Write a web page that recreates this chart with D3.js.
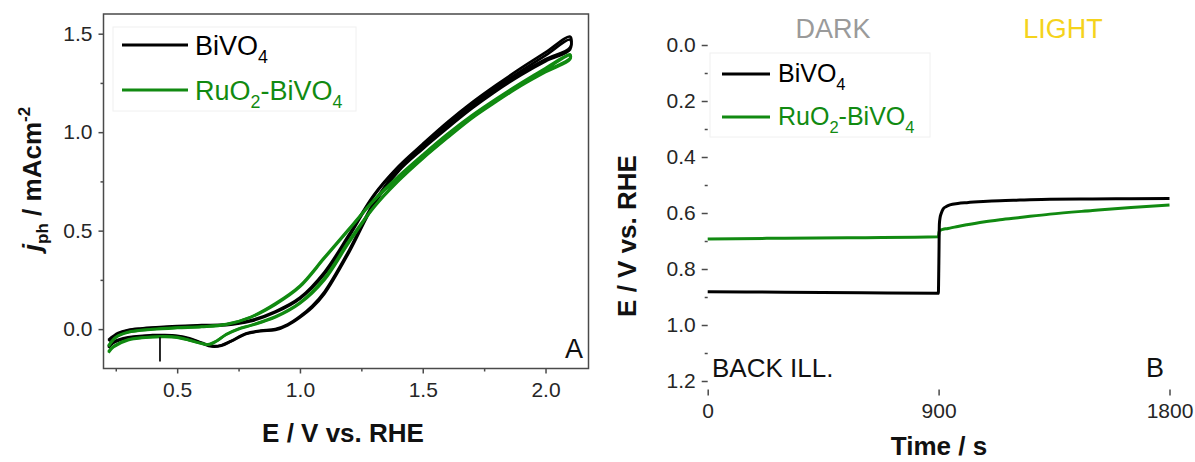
<!DOCTYPE html>
<html><head><meta charset="utf-8">
<script src="https://cdn.jsdelivr.net/npm/d3@7"></script>
<style>
body{margin:0;background:#fff}
svg{display:block}
text{font-family:"Liberation Sans",Arial,sans-serif}
</style>
</head><body>
<svg id="c" width="1195" height="462"></svg>
<script>
// ---------- Panel A data: j_ph (mA cm^-2) vs E (V vs RHE) ----------
const biVO4Fwd1 = [[0.22,-0.095],[0.24,-0.07],[0.3,-0.045],[0.4,-0.034],[0.45,-0.033],[0.5,-0.037],[0.55,-0.05],[0.6,-0.072],[0.64,-0.088],[0.68,-0.084],[0.72,-0.062],[0.78,-0.025],[0.84,-0.01],[0.9,-0.004],[0.95,0.02],[1.0,0.06],[1.05,0.11],[1.1,0.18],[1.2,0.39],[1.3,0.63],[1.4,0.8],[1.5,0.915],[1.6,1.02],[1.7,1.12],[1.8,1.21],[1.9,1.29],[2.0,1.36],[2.1,1.42]];
const biVO4Rev1 = [[2.1,1.47],[2.0,1.39],[1.9,1.31],[1.8,1.23],[1.7,1.14],[1.6,1.04],[1.5,0.93],[1.4,0.82],[1.3,0.675],[1.2,0.47],[1.1,0.28],[1.0,0.155],[0.9,0.085],[0.8,0.04],[0.7,0.02],[0.6,0.018],[0.5,0.012],[0.43,0.008],[0.35,0.0],[0.3,-0.008],[0.26,-0.025],[0.22,-0.06]];
const biVO4Fwd2 = [[0.22,-0.09],[0.24,-0.066],[0.3,-0.042],[0.4,-0.031],[0.45,-0.03],[0.5,-0.034],[0.55,-0.047],[0.6,-0.07],[0.645,-0.086],[0.68,-0.082],[0.72,-0.06],[0.78,-0.022],[0.84,-0.008],[0.9,0.0],[0.95,0.024],[1.0,0.065],[1.05,0.118],[1.1,0.19],[1.2,0.4],[1.3,0.64],[1.4,0.81],[1.5,0.925],[1.6,1.03],[1.7,1.13],[1.8,1.22],[1.9,1.3],[2.0,1.37],[2.1,1.43]];
const biVO4Rev2 = [[2.1,1.485],[2.0,1.405],[1.9,1.325],[1.8,1.24],[1.7,1.15],[1.6,1.05],[1.5,0.94],[1.4,0.825],[1.3,0.68],[1.2,0.48],[1.1,0.29],[1.0,0.16],[0.9,0.09],[0.8,0.045],[0.7,0.024],[0.6,0.02],[0.5,0.015],[0.43,0.01],[0.35,0.003],[0.3,-0.005],[0.26,-0.02],[0.22,-0.055]];

const ruO2Fwd1 = [[0.22,-0.12],[0.24,-0.092],[0.3,-0.056],[0.4,-0.041],[0.45,-0.039],[0.5,-0.043],[0.55,-0.058],[0.6,-0.074],[0.63,-0.079],[0.66,-0.062],[0.7,-0.028],[0.75,0.0],[0.8,0.018],[0.9,0.06],[1.0,0.13],[1.1,0.25],[1.2,0.44],[1.3,0.615],[1.4,0.75],[1.5,0.865],[1.6,0.97],[1.7,1.07],[1.8,1.155],[1.9,1.235],[2.0,1.305],[2.1,1.37]];
const ruO2Rev1 = [[2.1,1.395],[2.0,1.325],[1.9,1.25],[1.8,1.17],[1.7,1.085],[1.6,0.99],[1.5,0.885],[1.4,0.775],[1.3,0.655],[1.2,0.51],[1.1,0.365],[1.0,0.22],[0.9,0.13],[0.8,0.062],[0.7,0.025],[0.6,0.013],[0.5,0.008],[0.4,0.0],[0.3,-0.015],[0.25,-0.04],[0.22,-0.085]];
const ruO2Fwd2 = [[0.22,-0.115],[0.24,-0.088],[0.3,-0.053],[0.4,-0.039],[0.45,-0.037],[0.5,-0.041],[0.55,-0.056],[0.6,-0.072],[0.625,-0.077],[0.66,-0.06],[0.7,-0.026],[0.75,0.002],[0.8,0.02],[0.9,0.064],[1.0,0.135],[1.1,0.26],[1.2,0.45],[1.3,0.62],[1.4,0.755],[1.5,0.87],[1.6,0.975],[1.7,1.075],[1.8,1.16],[1.9,1.24],[2.0,1.31],[2.1,1.375]];
const ruO2Rev2 = [[2.1,1.39],[2.0,1.32],[1.9,1.245],[1.8,1.165],[1.7,1.08],[1.6,0.985],[1.5,0.88],[1.4,0.77],[1.3,0.65],[1.2,0.505],[1.1,0.36],[1.0,0.215],[0.9,0.125],[0.8,0.06],[0.7,0.023],[0.6,0.011],[0.5,0.006],[0.4,-0.002],[0.3,-0.017],[0.25,-0.043],[0.22,-0.088]];

const markerE = 0.43;
const markerJ = [-0.04, -0.165];

const aXTicks = [0.5, 1.0, 1.5, 2.0];
const aXMinor = [0.25, 0.75, 1.25, 1.75];
const aYTicks = [0.0, 0.5, 1.0, 1.5];
const aYMinor = [0.25, 0.75, 1.25];

// ---------- Panel B data: E (V vs RHE) vs time (s) ----------
const timeS = [0, 300, 600, 899, 901, 903, 906, 910, 918, 930, 944, 975, 1010, 1074, 1139, 1217, 1334, 1500, 1650, 1800];
const eBiVO4 = [0.881, 0.883, 0.885, 0.887, 0.78, 0.64, 0.615, 0.602, 0.585, 0.577, 0.571, 0.566, 0.563, 0.559, 0.556, 0.554, 0.551, 0.550, 0.549, 0.548];
const eRuO2 = [0.693, 0.690, 0.688, 0.685, 0.672, 0.664, 0.662, 0.660, 0.658, 0.656, 0.654, 0.648, 0.642, 0.632, 0.624, 0.616, 0.604, 0.591, 0.580, 0.571];

const bXTicks = [0, 900, 1800];
const bYTicks = [0.0, 0.2, 0.4, 0.6, 0.8, 1.0, 1.2];
const bYMinor = [0.1, 0.3, 0.5, 0.7, 0.9, 1.1];

// ---------- Drawing ----------
const BLACK = "#000000", GREEN = "#118a11", AXIS = "#4a4a4a";
const svg = d3.select("#c");

function frame(g, x, y) {
  const [x0, x1] = x.range(), [y0, y1] = y.range();
  g.append("rect").attr("x", x0).attr("y", y1).attr("width", x1 - x0).attr("height", y0 - y1)
    .attr("fill", "none").attr("stroke", AXIS).attr("stroke-width", 1.5);
}
function styleAxis(sel, fs) {
  sel.select(".domain").remove();
  sel.selectAll(".tick line").attr("stroke", AXIS).attr("stroke-width", 1.5);
  sel.selectAll(".tick text").attr("font-size", fs).attr("fill", "#262626")
    .attr("font-family", '"Liberation Sans",Arial,sans-serif');
}

// Panel A
const ax = d3.scaleLinear().domain([0.2, 2.175]).range([103.5, 588.5]);
const ay = d3.scaleLinear().domain([-0.2, 1.6]).range([368.5, 14]);
const gA = svg.append("g");

gA.append("rect").attr("x", 113).attr("y", 27).attr("width", 243).attr("height", 84)
  .attr("fill", "#fff").attr("stroke", "#f0f0f0").attr("stroke-width", 1);

const lineA = d3.line().x(d => ax(d[0])).y(d => ay(d[1])).curve(d3.curveCatmullRom.alpha(0.5));
[[biVO4Fwd1, biVO4Rev1, BLACK], [biVO4Fwd2, biVO4Rev2, BLACK], [ruO2Fwd1, ruO2Rev1, GREEN], [ruO2Fwd2, ruO2Rev2, GREEN]]
  .forEach(([f, r, c]) => {
    gA.append("path").datum(f.concat(r)).attr("d", lineA).attr("fill", "none")
      .attr("stroke", c).attr("stroke-width", 2.7).attr("stroke-linejoin", "round");
  });
gA.append("line").attr("x1", ax(markerE)).attr("x2", ax(markerE))
  .attr("y1", ay(markerJ[0])).attr("y2", ay(markerJ[1])).attr("stroke", "#111").attr("stroke-width", 1.8);

frame(gA, ax, ay);
styleAxis(gA.append("g").attr("transform", `translate(0,${ay.range()[0]})`)
  .call(d3.axisBottom(ax).tickValues(aXTicks).tickSize(5).tickPadding(9).tickFormat(d3.format(".1f"))), 21);
styleAxis(gA.append("g").attr("transform", `translate(0,${ay.range()[0]})`)
  .call(d3.axisBottom(ax).tickValues(aXMinor).tickSize(3).tickFormat("")), 21);
styleAxis(gA.append("g").attr("transform", `translate(${ax.range()[0]},0)`)
  .call(d3.axisLeft(ay).tickValues(aYTicks).tickSize(5).tickPadding(6).tickFormat(d3.format(".1f"))), 21);
styleAxis(gA.append("g").attr("transform", `translate(${ax.range()[0]},0)`)
  .call(d3.axisLeft(ay).tickValues(aYMinor).tickSize(3).tickFormat("")), 21);

function legend(g, x0, x1, tx, yLine, yText, color, parts, fs) {
  g.append("line").attr("x1", x0).attr("x2", x1).attr("y1", yLine).attr("y2", yLine)
    .attr("stroke", color).attr("stroke-width", 3);
  const t = g.append("text").attr("x", tx).attr("y", yText).attr("fill", color).attr("font-size", fs);
  parts.forEach(p => {
    const s = t.append("tspan").text(p[0]);
    if (p[1] === "sub") s.attr("font-size", fs * 0.66).attr("dy", fs * 0.3);
    if (p[1] === "back") s.attr("dy", -fs * 0.3);
  });
}
legend(gA, 122, 188, 195, 45, 55, BLACK, [["BiVO"], ["4", "sub"]], 27);
legend(gA, 122, 188, 195, 90, 100, GREEN, [["RuO"], ["2", "sub"], ["-BiVO", "back"], ["4", "sub"]], 27);

gA.append("text").attr("x", 583).attr("y", 358).attr("text-anchor", "end").attr("font-size", 27).attr("fill", "#111").text("A");

gA.append("text").attr("x", 343).attr("y", 442).attr("text-anchor", "middle")
  .attr("font-size", 26).attr("font-weight", "bold").attr("fill", "#111").text("E / V vs. RHE");
const yt = gA.append("text").attr("transform", "translate(41,179) rotate(-90)").attr("text-anchor", "middle")
  .attr("font-size", 26).attr("font-weight", "bold").attr("fill", "#111");
yt.append("tspan").attr("font-style", "italic").text("j");
yt.append("tspan").attr("font-size", 17).attr("dy", 7).text("ph");
yt.append("tspan").attr("dy", -7).text(" / mAcm");
yt.append("tspan").attr("font-size", 17).attr("dy", -11).text("-2");

// Panel B
const bx = d3.scaleLinear().domain([0, 1800]).range([707.7, 1169.5]);
const by = d3.scaleLinear().domain([0, 1.23]).range([45, 389.4]);
const gB = svg.append("g");

gB.append("rect").attr("x", 710).attr("y", 53).attr("width", 220).attr("height", 84)
  .attr("fill", "#fff").attr("stroke", "#f0f0f0").attr("stroke-width", 1);

const lineB = d3.line().x(d => bx(d[0])).y(d => by(d[1])).curve(d3.curveMonotoneX);
gB.append("path").datum(timeS.map((t, i) => [t, eRuO2[i]])).attr("d", lineB).attr("fill", "none")
  .attr("stroke", GREEN).attr("stroke-width", 3);
gB.append("path").datum(timeS.map((t, i) => [t, eBiVO4[i]])).attr("d", lineB).attr("fill", "none")
  .attr("stroke", BLACK).attr("stroke-width", 3);

frame(gB, bx, by);
styleAxis(gB.append("g").attr("transform", `translate(0,${by.range()[1]})`)
  .call(d3.axisBottom(bx).tickValues(bXTicks).tickSize(6).tickPadding(8).tickFormat(d3.format("d"))), 21);
styleAxis(gB.append("g").attr("transform", `translate(${bx.range()[0]},0)`)
  .call(d3.axisLeft(by).tickValues(bYTicks).tickSize(6).tickPadding(6).tickFormat(d3.format(".1f"))), 21);
styleAxis(gB.append("g").attr("transform", `translate(${bx.range()[0]},0)`)
  .call(d3.axisLeft(by).tickValues(bYMinor).tickSize(3).tickFormat("")), 21);

legend(gB, 722, 770, 778, 74, 82, BLACK, [["BiVO"], ["4", "sub"]], 25);
legend(gB, 722, 770, 778, 117, 125, GREEN, [["RuO"], ["2", "sub"], ["-BiVO", "back"], ["4", "sub"]], 25);

gB.append("text").attr("x", 833).attr("y", 38).attr("text-anchor", "middle").attr("font-size", 27).attr("fill", "#9a9a9a").text("DARK");
gB.append("text").attr("x", 1063).attr("y", 38).attr("text-anchor", "middle").attr("font-size", 27).attr("fill", "#f5d31c").text("LIGHT");
gB.append("text").attr("x", 712).attr("y", 377).attr("font-size", 26).attr("fill", "#111").text("BACK ILL.");
gB.append("text").attr("x", 1164).attr("y", 377).attr("text-anchor", "end").attr("font-size", 27).attr("fill", "#111").text("B");

gB.append("text").attr("x", 939).attr("y", 455).attr("text-anchor", "middle")
  .attr("font-size", 26).attr("font-weight", "bold").attr("fill", "#111").text("Time / s");
gB.append("text").attr("transform", "translate(636,236) rotate(-90)").attr("text-anchor", "middle")
  .attr("font-size", 26).attr("font-weight", "bold").attr("fill", "#111").text("E / V vs. RHE");
</script>
</body></html>
